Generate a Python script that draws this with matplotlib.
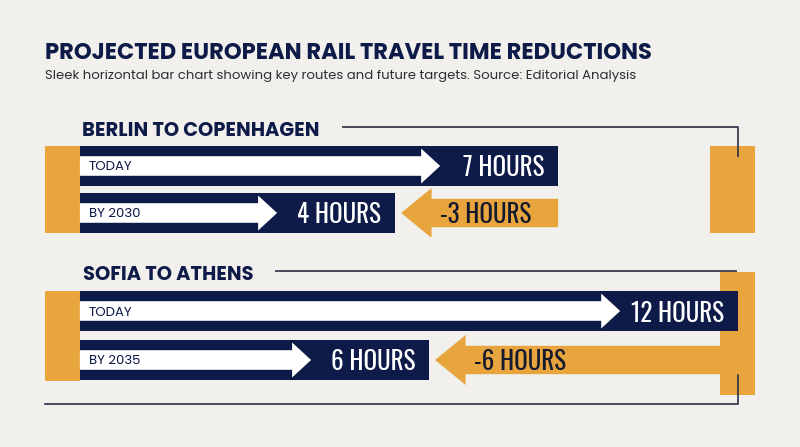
import os
import matplotlib
matplotlib.use("Agg")
import matplotlib.pyplot as plt
from matplotlib import font_manager as fm
from matplotlib.patches import Polygon, Rectangle

# ---------------- data ----------------
TITLE = "PROJECTED EUROPEAN RAIL TRAVEL TIME REDUCTIONS"
SUBTITLE = ("Sleek horizontal bar chart showing key routes and future targets. "
            "Source: Editorial Analysis")
routes = ["BERLIN TO COPENHAGEN", "SOFIA TO ATHENS"]
today_labels = ["TODAY", "TODAY"]
target_labels = ["BY 2030", "BY 2035"]
today_hours = [7, 12]
target_hours = [4, 6]

# per-route hour scale (domain spanning the full figure width) and bar origin
x_domains = [(-3.27, 11.45), (-2.33, 13.20)]
bar_origin = [-1.80, -0.78]

# ---------------- style ----------------
NAVY = "#0e1a48"
ORANGE = "#e8a53d"
BG = "#f1f0ec"
INK = "#15192f"
LINE = "#2a2e44"
W, H = 800, 447

available = set(f.name for f in fm.fontManager.ttflist)


def fam(cands, weight, bad=()):
    for c in cands:
        if c not in available:
            continue
        f = os.path.basename(fm.findfont(fm.FontProperties(family=c, weight=weight),
                                         fallback_to_default=False)).lower()
        if "[" in f or any(b in f for b in bad):
            continue
        return c
    return "DejaVu Sans"


BOLD = fam(["Montserrat", "Poppins", "Lato"], "bold",
           bad=("thin", "light", "regular"))
REG = fam(["Montserrat", "Poppins", "Lato", "Open Sans"], "normal",
          bad=("thin", "light", "bold", "black"))
COND = "Oswald" if "Oswald" in available else fam(
    ["Fira Sans Extra Condensed", "PT Sans Narrow"], "normal")

fig = plt.figure(figsize=(8, 4.47), dpi=100, facecolor=BG)
bg = fig.add_axes([0, 0, 1, 1])
bg.set_xlim(0, W)
bg.set_ylim(H, 0)
bg.axis("off")
bg.set_zorder(0)

bg.text(45, 50.5, TITLE, fontsize=16.3, fontweight="bold", color=NAVY,
        va="center_baseline", ha="left", family=BOLD)
bg.text(45, 75, SUBTITLE, fontsize=9.5, color="#2e2e33",
        va="center_baseline", ha="left", family=REG)

# group layout (pixels): title pos, header line, row centres/spacing, blocks
layout = [
    dict(title=(82, 129), rows=(166, 47),
         header=[(342, 127), (738, 127), (738, 157)],
         left_block=(45, 145.7, 35, 87.3), right_block=(710, 145.7, 45, 87.3)),
    dict(title=(83, 273), rows=(311, 49),
         header=[(275, 271), (737, 271)],
         left_block=(45, 290.7, 35, 90), right_block=(720, 271.7, 35, 123.3)),
]
bottom_line = [(45, 404), (738, 404), (738, 375)]


def arrow(ax, x0, tip, y, sh, hh, hl, color, z):
    d = 1 if tip > x0 else -1
    b = tip - d * hl
    verts = [(x0, y - sh), (b, y - sh), (b, y - hh), (tip, y), (b, y + hh),
             (b, y + sh), (x0, y + sh)]
    ax.add_patch(Polygon(verts, closed=True, facecolor=color,
                         edgecolor="none", zorder=z))


for i, lay in enumerate(layout):
    # decorations
    for (x, y, w, h) in (lay["left_block"], lay["right_block"]):
        bg.add_patch(Rectangle((x, y), w, h, facecolor=ORANGE, edgecolor="none", zorder=1))
    xs, ys = zip(*lay["header"])
    bg.plot(xs, ys, color=LINE, lw=1.2, zorder=3, solid_capstyle="butt")
    bg.text(lay["title"][0], lay["title"][1], routes[i], fontsize=14,
            fontweight="bold", color=NAVY, va="center_baseline", ha="left",
            family=BOLD)

    # data axes
    yc, s = lay["rows"]
    top = yc - s / 2
    ax = fig.add_axes([0, 1 - (top + 2 * s) / H, 1, 2 * s / H])
    ax.set_zorder(2)
    ax.patch.set_alpha(0)
    ax.axis("off")
    xmin, xmax = x_domains[i]
    ax.set_xlim(xmin, xmax)
    ax.set_ylim(1.5, -0.5)
    kx = W / (xmax - xmin)
    ky = s
    o = bar_origin[i]
    vals = [today_hours[i], target_hours[i]]
    labs = [today_labels[i], target_labels[i]]

    ax.barh([0, 1], [v - o for v in vals], left=o, height=40.4 / ky,
            color=NAVY, zorder=2)
    for r, (v, lab) in enumerate(zip(vals, labs)):
        arrow(ax, o, v - 118 / kx, r, 9.8 / ky, 17.5 / ky, 19 / kx, "white", 3)
        ax.text(o + 9 / kx, r, lab, fontsize=9.5, color=NAVY,
                va="center_baseline", ha="left", zorder=4, family=REG)
        ax.annotate(f"{v} HOURS", xy=(v, r), xytext=(-14 * 0.72, 0),
                    textcoords="offset points", ha="right",
                    va="center_baseline", color="white",
                    fontsize=18, family=COND, zorder=4)

    red = target_hours[i] - today_hours[i]
    t_tip = target_hours[i] + 6 / kx
    arrow(ax, today_hours[i], t_tip, 1, 14.2 / ky, 25 / ky, 30.5 / kx, ORANGE, 1)
    ax.annotate(f"{red} HOURS", xy=(t_tip + 30.5 / kx, 1), xytext=(8 * 0.72, 0),
                textcoords="offset points", ha="left", va="center_baseline",
                color=INK, fontsize=18, family=COND, zorder=4)

xs, ys = zip(*bottom_line)
bg.plot(xs, ys, color=LINE, lw=1.2, zorder=3)

fig.savefig("out.png", dpi=100, facecolor=BG)
